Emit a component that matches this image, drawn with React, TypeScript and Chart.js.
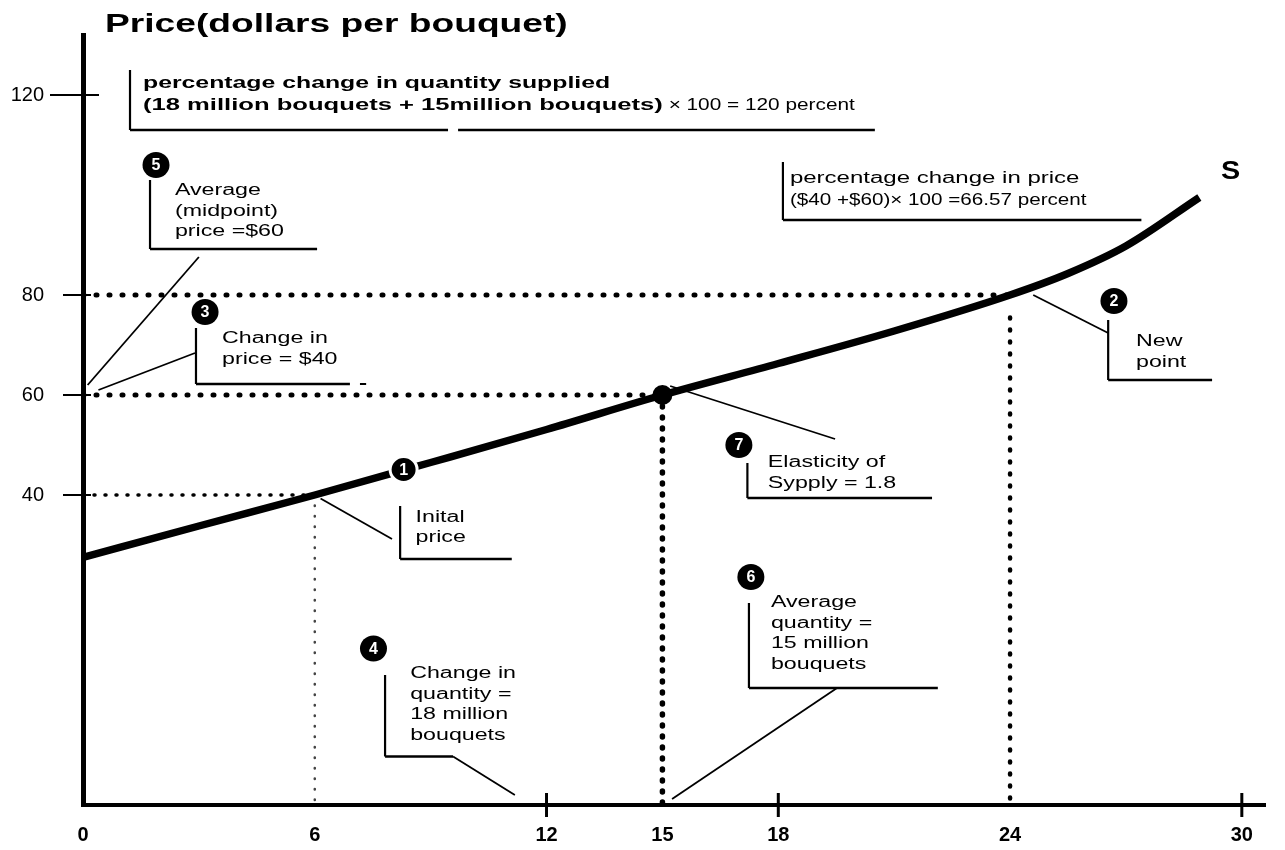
import { useEffect, useRef } from 'react';
import { Chart, registerables } from 'chart.js';

Chart.register(...registerables);

// ---------------- data ----------------
const quantity = [0, 3, 6, 9, 12, 15, 18, 21, 24, 25.5, 27, 28.9];
const supplyPrice = [27.5, 33.8, 40, 46.5, 53.1, 60, 66.3, 72.8, 80, 84.3, 89.8, 99.5];

const xTickValues = [0, 6, 12, 15, 18, 24, 30];
const xTickMarks = [12, 18, 30];
const yTickValues = [40, 60, 80, 120];

const initialQty = 6;
const initialPrice = 40;
const averageQty = 15;
const averagePrice = 60;
const newQty = 24;
const newPrice = 80;
const newQtyGuideTop = 75.5;

const xMin = 0;
const xMax = 30.6;
const yMin = -22;
const yMax = 132;

const titleText = 'Price(dollars per bouquet)';
const curveLabel = 'S';

// callouts (positions in data units)
const callouts = [
  { label: '5', badge: [1.89, 106], text: ['Average', '(midpoint)', 'price =$60'], textAt: [2.38, 100], bar: [1.735, 103, 89.2], base: 6.06, leader: [[0.12, 62], [3.0, 87.6]], ring: false },
  { label: '3', badge: [3.16, 76.6], text: ['Change in', 'price = $40'], textAt: [3.6, 70.4], bar: [2.925, 73.4, 62.2], base: 6.91, leader: [[0.4, 61], [2.9, 68.4]], ring: false },
  { label: '1', badge: [8.3, 45.1], text: ['Inital', 'price'], textAt: [8.61, 34.7], bar: [8.21, 37.8, 27.2], base: 11.1, leader: [[6.15, 39.3], [8.0, 31.2]], ring: true },
  { label: '2', badge: [26.69, 78.8], text: ['New', 'point'], textAt: [27.26, 69.8], bar: [26.54, 75, 63], base: 29.23, leader: [[24.6, 80], [26.54, 72.4]], ring: false },
  { label: '7', badge: [16.98, 50], text: ['Elasticity of', 'Sypply = 1.8'], textAt: [17.73, 45.6], bar: [17.2, 46.4, 39.4], base: 21.98, leader: [[15.2, 61.8], [19.47, 51.2]], ring: false },
  { label: '6', badge: [17.29, 23.6], text: ['Average', 'quantity =', '15 million', 'bouquets'], textAt: [17.81, 17.6], bar: [17.24, 18.4, 1.4], base: 22.13, leader: [[19.52, 1.4], [15.25, -20.8]], ring: false },
  { label: '4', badge: [7.52, 9.3], text: ['Change in', 'quantity =', '18 million', 'bouquets'], textAt: [8.47, 3.4], bar: [7.82, 4, -12.3], base: 9.58, leader: [[9.58, -12.3], [11.18, -20]], ring: false },
];

const FONT = '"Liberation Sans", Arial, Helvetica, sans-serif';

function stretchText(ctx: CanvasRenderingContext2D, text: string, x: number, y: number, font: string, sx: number) {
  ctx.save();
  ctx.font = font;
  const w = ctx.measureText(text).width * sx;
  ctx.translate(x, y);
  ctx.scale(sx, 1);
  ctx.fillText(text, 0, 0);
  ctx.restore();
  return w;
}

const annotationPlugin = {
  id: 'supplyAnnotations',
  afterDatasetsDraw(chart: any) {
    const ctx: CanvasRenderingContext2D = chart.ctx;
    const xs = chart.scales.x;
    const ys = chart.scales.y;
    const X = (v: number) => xs.getPixelForValue(v);
    const Y = (v: number) => ys.getPixelForValue(v);
    ctx.save();
    ctx.fillStyle = '#000';
    ctx.strokeStyle = '#000';
    ctx.textAlign = 'left';
    ctx.textBaseline = 'alphabetic';
    ctx.lineCap = 'butt';
    const seg = (a: number[], b: number[], w: number) => {
      ctx.lineWidth = w;
      ctx.beginPath();
      ctx.moveTo(X(a[0]), Y(a[1]));
      ctx.lineTo(X(b[0]), Y(b[1]));
      ctx.stroke();
    };

    // Box A: percentage change in quantity
    seg([1.217, 125], [1.217, 113], 2.2);
    seg([1.217, 113], [9.45, 113], 2.5);
    seg([9.71, 113], [20.5, 113], 2.5);
    stretchText(ctx, 'percentage change in quantity supplied', X(1.553), Y(121.4), `bold 16px ${FONT}`, 1.55);
    const wb = stretchText(ctx, '(18 million bouquets + 15million bouquets)', X(1.553), Y(121.4) + 22, `bold 16px ${FONT}`, 1.6);
    stretchText(ctx, ' \u00d7 100 = 120 percent', X(1.553) + wb, Y(121.4) + 22, `16px ${FONT}`, 1.3);

    // Box B: percentage change in price
    seg([18.12, 106.6], [18.12, 95], 2.2);
    seg([18.12, 95], [27.4, 95], 2.5);
    stretchText(ctx, 'percentage change in price', X(18.3), Y(102.4), `16px ${FONT}`, 1.5);
    stretchText(ctx, '($40 +$60)\u00d7 100 =66.57 percent', X(18.3), Y(102.4) + 22, `16px ${FONT}`, 1.29);

    // small dash next to box 3
    seg([7.17, 62.2], [7.33, 62.2], 2);

    for (const c of callouts) {
      ctx.strokeStyle = '#000';
      seg(c.leader[0], c.leader[1], 1.8);
      seg([c.bar[0], c.bar[1]], [c.bar[0], c.bar[2]], 2.2);
      seg([c.bar[0], c.bar[2]], [c.base, c.bar[2]], 2.5);
      ctx.fillStyle = '#000';
      c.text.forEach((t, i) => {
        stretchText(ctx, t, X(c.textAt[0]), Y(c.textAt[1]) + i * 20.5, `16px ${FONT}`, 1.45);
      });
      const bx = X(c.badge[0]);
      const by = Y(c.badge[1]);
      ctx.beginPath();
      ctx.ellipse(bx, by, 13.5, 13, 0, 0, Math.PI * 2);
      ctx.fillStyle = '#000';
      ctx.fill();
      if (c.ring) {
        ctx.lineWidth = 3;
        ctx.strokeStyle = '#fff';
        ctx.stroke();
        ctx.strokeStyle = '#000';
      }
      ctx.fillStyle = '#fff';
      ctx.font = `bold 16px ${FONT}`;
      ctx.textAlign = 'center';
      ctx.textBaseline = 'middle';
      ctx.fillText(c.label, bx, by + 1);
      ctx.textAlign = 'left';
      ctx.textBaseline = 'alphabetic';
      ctx.fillStyle = '#000';
    }

    // curve label
    stretchText(ctx, curveLabel, X(29.46), Y(103.2), `bold 25px ${FONT}`, 1.15);
    ctx.restore();
  },
  afterDraw(chart: any) {
    const ctx: CanvasRenderingContext2D = chart.ctx;
    const xs = chart.scales.x;
    const ys = chart.scales.y;
    const area = chart.chartArea;
    ctx.save();
    ctx.fillStyle = '#000';
    ctx.strokeStyle = '#000';
    // title
    stretchText(ctx, titleText, 105, 32, `bold 26px ${FONT}`, 1.43);
    // x tick marks (crossing the axis)
    ctx.lineWidth = 3;
    for (const v of xTickMarks) {
      const px = xs.getPixelForValue(v);
      ctx.beginPath();
      ctx.moveTo(px, area.bottom - 12);
      ctx.lineTo(px, area.bottom + 12);
      ctx.stroke();
    }
    // y tick marks
    ctx.lineWidth = 2;
    for (const v of yTickValues) {
      const py = ys.getPixelForValue(v);
      const big = v === yTickValues[yTickValues.length - 1];
      ctx.beginPath();
      ctx.moveTo(area.left - (big ? 33 : 20), py);
      ctx.lineTo(area.left + (big ? 16 : 8), py);
      ctx.stroke();
    }
    ctx.restore();
  },
};

const dotted = (data: { x: number; y: number }[], width: number, dash: number[], color = '#000') => ({
  data,
  borderColor: color,
  borderWidth: width,
  borderDash: dash,
  borderCapStyle: 'round' as const,
  pointRadius: 0,
  fill: false,
  tension: 0,
});

export default function App() {
  const ref = useRef<HTMLCanvasElement>(null);
  useEffect(() => {
    const curve = quantity.map((q, i) => ({ x: q, y: supplyPrice[i] }));
    const chart = new Chart(ref.current as HTMLCanvasElement, {
      type: 'line',
      data: {
        datasets: [
          {
            data: [{ x: averageQty, y: averagePrice }],
            showLine: false,
            pointRadius: 10,
            pointBackgroundColor: '#000',
            pointBorderWidth: 0,
          } as any,
          {
            data: curve,
            borderColor: '#000',
            borderWidth: 7.5,
            pointRadius: 0,
            cubicInterpolationMode: 'monotone',
            fill: false,
          },
          dotted([{ x: xMin, y: newPrice }, { x: newQty, y: newPrice }], 5, [1, 12]),
          dotted([{ x: xMin, y: averagePrice }, { x: averageQty, y: averagePrice }], 5, [1, 12]),
          dotted([{ x: xMin, y: initialPrice }, { x: initialQty, y: initialPrice }], 3.5, [1, 10]),
          dotted([{ x: initialQty, y: initialPrice }, { x: initialQty, y: yMin }], 2.5, [0.5, 10], '#444'),
          dotted([{ x: averageQty, y: averagePrice }, { x: averageQty, y: yMin }], 5.5, [1, 10]),
          dotted([{ x: newQty, y: newQtyGuideTop }, { x: newQty, y: yMin }], 4.5, [1, 11]),
        ],
      },
      options: {
        animation: false,
        responsive: true,
        maintainAspectRatio: false,
        layout: { padding: { top: 35, right: 20, left: 0, bottom: 0 } },
        plugins: {
          legend: { display: false },
          tooltip: { enabled: false },
          title: { display: false },
        },
        scales: {
          x: {
            type: 'linear',
            min: xMin,
            max: xMax,
            afterBuildTicks: (s: any) => {
              s.ticks = xTickValues.map((v) => ({ value: v }));
            },
            afterFit: (s: any) => {
              s.height = 45;
              s.paddingLeft = 0;
              s.paddingRight = 0;
              s.paddingTop = 0;
              s.paddingBottom = 0;
            },
            grid: { display: false, drawTicks: false },
            border: { display: true, color: '#000', width: 4 },
            ticks: {
              autoSkip: false,
              maxRotation: 0,
              padding: 18,
              color: '#000',
              font: { family: FONT, size: 20, weight: 'bold' },
            },
          },
          y: {
            type: 'linear',
            min: yMin,
            max: yMax,
            afterBuildTicks: (s: any) => {
              s.ticks = yTickValues.map((v) => ({ value: v }));
            },
            afterFit: (s: any) => {
              s.width = 83;
              s.paddingLeft = 0;
              s.paddingRight = 0;
              s.paddingTop = 0;
              s.paddingBottom = 0;
            },
            grid: { display: false, drawTicks: false },
            border: { display: true, color: '#000', width: 5 },
            ticks: {
              padding: 39,
              color: '#000',
              font: { family: FONT, size: 20 },
            },
          },
        },
      } as any,
      plugins: [annotationPlugin],
    });
    return () => chart.destroy();
  }, []);
  return (
    <div style={{ position: 'fixed', left: 0, top: 0, width: 1285, height: 850, background: '#fff' }}>
      <canvas ref={ref} />
    </div>
  );
}
